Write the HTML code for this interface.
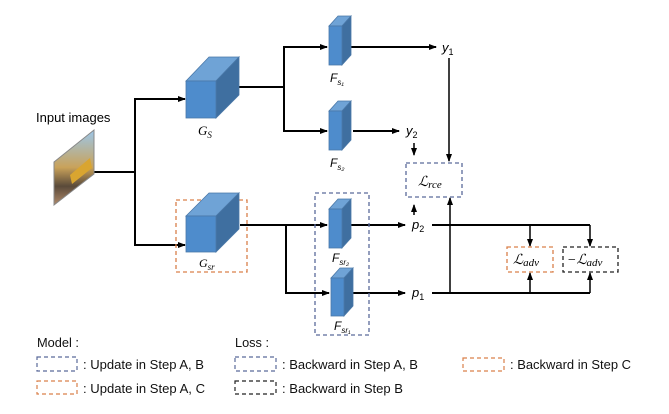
<!DOCTYPE html>
<html><head><meta charset="utf-8"><style>
html,body{margin:0;padding:0;background:#fff}
svg{display:block}
text{font-family:"Liberation Sans",sans-serif}
.m{font-family:"Liberation Serif",serif;font-style:italic}
</style></head><body>
<svg width="669" height="414" viewBox="0 0 669 414">
<defs>
<marker id="ah" markerWidth="8" markerHeight="8" refX="7" refY="4" orient="auto" markerUnits="userSpaceOnUse">
<path d="M0,1 L8,4 L0,7 z" fill="#000"/></marker>
<linearGradient id="img" x1="0" y1="0" x2="0" y2="1">
<stop offset="0" stop-color="#9cc7ea"/><stop offset="0.5" stop-color="#c9a25a"/><stop offset="0.75" stop-color="#5a4a3a"/><stop offset="1" stop-color="#b08a6a"/></linearGradient>
</defs>
<g stroke="#000" stroke-width="2" fill="none">
<path d="M94,172 H135 V99 H185" marker-end="url(#ah)"/>
<path d="M135,172 V245 H185" marker-end="url(#ah)"/>
<path d="M239,87 H284" />
<path d="M284,87 V47 H327" marker-end="url(#ah)"/>
<path d="M284,87 V131 H327" marker-end="url(#ah)"/>
<path d="M351,47 H436" marker-end="url(#ah)"/>
<path d="M353,131 H399" marker-end="url(#ah)"/>
<path d="M449,58 V161" marker-end="url(#ah)" stroke-width="1.5"/>
<path d="M414,143 V155" marker-end="url(#ah)" stroke-width="1.5"/>
<path d="M240,225 H286"/>
<path d="M286,225 H327" marker-end="url(#ah)"/>
<path d="M286,225 V293 H329" marker-end="url(#ah)"/>
<path d="M351,225 H405" marker-end="url(#ah)"/>
<path d="M353,293 H405" marker-end="url(#ah)"/>
<path d="M414,215 V205" marker-end="url(#ah)" stroke-width="1.5"/>
<path d="M432,225 H590"/>
<path d="M530,225 V246" marker-end="url(#ah)" stroke-width="1.5"/>
<path d="M590,225 V246" marker-end="url(#ah)" stroke-width="1.5"/>
<path d="M432,293 H590"/>
<path d="M450,293 V198" marker-end="url(#ah)" stroke-width="1.5"/>
<path d="M530,293 V273" marker-end="url(#ah)" stroke-width="1.5"/>
<path d="M590,293 V273" marker-end="url(#ah)" stroke-width="1.5"/>
</g>
<g>
<polygon points="54,162 94,130 94,174 54,205" fill="url(#img)" stroke="#888" stroke-width="1"/>
<polygon points="70,175 90,158 92,168 72,184" fill="#d9a530"/>
</g>
<text x="36" y="122" font-size="13">Input images</text>
<g stroke="#4a78a8" stroke-width="0.8">
<polygon points="186,81 209,57 239,57 216,81" fill="#6fa3d6"/>
<polygon points="216,81 239,57 239,95 216,118" fill="#3f6fa0"/>
<rect x="186" y="81" width="30" height="37" fill="#4e8ccc"/>
</g>
<text x="198" y="135" class="m" font-size="13">G<tspan font-size="9" dy="3">S</tspan></text>
<rect x="176" y="200" width="71" height="72" fill="none" stroke="#d9804a" stroke-width="1.3" stroke-dasharray="4,3"/>
<g stroke="#4a78a8" stroke-width="0.8">
<polygon points="186,216 209,193 239,193 216,216" fill="#6fa3d6"/>
<polygon points="216,216 239,193 239,229 216,252" fill="#3f6fa0"/>
<rect x="186" y="216" width="30" height="36" fill="#4e8ccc"/>
</g>
<text x="199" y="267" class="m" font-size="12">G<tspan font-size="9" dy="3">sr</tspan></text>
<g stroke="#4a78a8" stroke-width="0.8">
<g><polygon points="329,26 338,16 351,16 342,26" fill="#6fa3d6"/><polygon points="342,26 351,16 351,55 342,65" fill="#3f6fa0"/><rect x="329" y="26" width="13" height="39" fill="#4e8ccc"/></g>
<g><polygon points="329,111 338,101 351,101 342,111" fill="#6fa3d6"/><polygon points="342,111 351,101 351,140 342,150" fill="#3f6fa0"/><rect x="329" y="111" width="13" height="39" fill="#4e8ccc"/></g>
<g><polygon points="329,209 338,199 351,199 342,209" fill="#6fa3d6"/><polygon points="342,209 351,199 351,238 342,248" fill="#3f6fa0"/><rect x="329" y="209" width="13" height="39" fill="#4e8ccc"/></g>
<g><polygon points="331,278 340,268 353,268 344,278" fill="#6fa3d6"/><polygon points="344,278 353,268 353,306 344,316" fill="#3f6fa0"/><rect x="331" y="278" width="13" height="38" fill="#4e8ccc"/></g>
</g>
<rect x="315" y="193" width="54" height="142" fill="none" stroke="#5a6a9a" stroke-width="1.3" stroke-dasharray="4,3"/>
<g class="m" font-size="12">
<text x="330" y="82">F<tspan font-size="8" dy="3">s₁</tspan></text>
<text x="330" y="167">F<tspan font-size="8" dy="3">s₂</tspan></text>
<text x="332" y="262">F<tspan font-size="8" dy="3">sr₂</tspan></text>
<text x="334" y="330">F<tspan font-size="8" dy="3">sr₁</tspan></text>
<text x="442" y="52" font-size="13">y<tspan font-size="9" dy="3" font-style="normal">1</tspan></text>
<text x="406" y="135" font-size="13">y<tspan font-size="9" dy="3" font-style="normal">2</tspan></text>
<text x="412" y="229" font-size="13">p<tspan font-size="9" dy="3" font-style="normal">2</tspan></text>
<text x="412" y="297" font-size="13">p<tspan font-size="9" dy="3" font-style="normal">1</tspan></text>
</g>
<rect x="406" y="163" width="56" height="34" fill="#fff" stroke="#5a6a9a" stroke-width="1.3" stroke-dasharray="4,3"/>
<text x="418" y="186" class="m" font-size="14">ℒ<tspan font-size="11" dy="2">rce</tspan></text>
<rect x="507" y="247" width="46" height="25" fill="#fff" stroke="#d9804a" stroke-width="1.3" stroke-dasharray="4,3"/>
<text x="513" y="264" class="m" font-size="14">ℒ<tspan font-size="11" dy="2">adv</tspan></text>
<rect x="563" y="247" width="55" height="25" fill="#fff" stroke="#222" stroke-width="1.3" stroke-dasharray="4,3"/>
<text x="567" y="264" class="m" font-size="14">−ℒ<tspan font-size="11" dy="2">adv</tspan></text>
<g font-size="13" fill="#111">
<text x="37" y="347" textLength="42" lengthAdjust="spacingAndGlyphs">Model :</text>
<text x="235" y="347" textLength="34" lengthAdjust="spacingAndGlyphs">Loss :</text>
<g fill="none" stroke-width="1.2" stroke-dasharray="4,3">
<rect x="37" y="357" width="40" height="14" stroke="#5a6a9a"/>
<rect x="37" y="381" width="40" height="13" stroke="#d9804a"/>
<rect x="235" y="357" width="41" height="14" stroke="#5a6a9a"/>
<rect x="235" y="381" width="41" height="13" stroke="#222"/>
<rect x="463" y="358" width="41" height="13" stroke="#d9804a"/>
</g>
<text x="83" y="369" textLength="121" lengthAdjust="spacingAndGlyphs">: Update in Step A, B</text>
<text x="83" y="393" textLength="122" lengthAdjust="spacingAndGlyphs">: Update in Step A, C</text>
<text x="282" y="369" textLength="136" lengthAdjust="spacingAndGlyphs">: Backward in Step A, B</text>
<text x="282" y="393" textLength="121" lengthAdjust="spacingAndGlyphs">: Backward in Step B</text>
<text x="510" y="369" textLength="121" lengthAdjust="spacingAndGlyphs">: Backward in Step C</text>
</g>
</svg>
</body></html>
